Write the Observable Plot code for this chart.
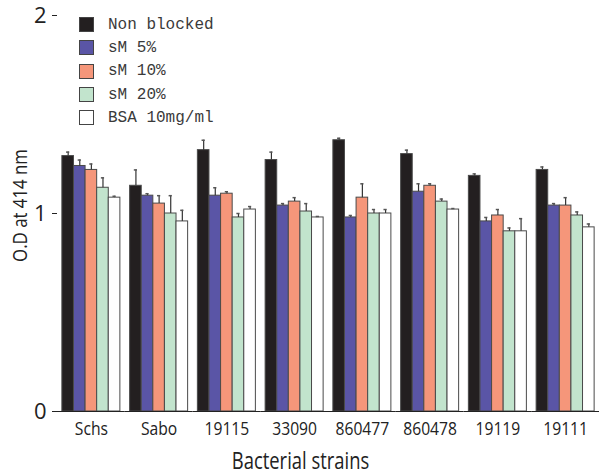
<!DOCTYPE html>
<html>
<head>
<meta charset="utf-8">
<script src="https://cdn.jsdelivr.net/npm/d3@7"></script>
<script src="https://cdn.jsdelivr.net/npm/@observablehq/plot@0.6"></script>
<style>
  html, body { margin: 0; padding: 0; background: #fff; }
  #wrap { position: relative; width: 599px; height: 474px; }
  #legend { position: absolute; left: 79px; top: 13px; font-family: "Liberation Mono", "DejaVu Sans Mono", monospace; font-size: 16px; color: #3a3a3a; }
  #legend .row { display: flex; align-items: center; height: 23.3px; }
  #legend .sw { width: 13px; height: 13px; border: 1px solid #444; box-sizing: content-box; margin-right: 14px; }
</style>
</head>
<body>
<div id="wrap"><div id="legend"></div></div>
<script>
// Bacterial strains tested (groups along the x axis)
const strains = ["Schs", "Sabo", "19115", "33090", "860477", "860478", "19119", "19111"];
// Blocking conditions (bars within each group)
const series = ["Non blocked", "sM 5%", "sM 10%", "sM 20%", "BSA 10mg/ml"];
const colors = ["#231f20", "#5a55a6", "#f5967a", "#c2e4cd", "#ffffff"];

// Mean optical density at 414 nm, one array per condition
const nonBlocked = [1.29, 1.14, 1.32, 1.27, 1.37, 1.30, 1.19, 1.22];
const sm5        = [1.24, 1.09, 1.09, 1.04, 0.98, 1.11, 0.96, 1.04];
const sm10       = [1.22, 1.05, 1.10, 1.06, 1.08, 1.14, 0.99, 1.04];
const sm20       = [1.13, 1.00, 0.98, 1.01, 1.00, 1.06, 0.91, 0.99];
const bsa        = [1.08, 0.96, 1.02, 0.98, 1.00, 1.02, 0.91, 0.93];

// Standard deviations (upper error bars)
const nonBlockedErr = [0.02, 0.08, 0.05, 0.04, 0.01, 0.02, 0.01, 0.015];
const sm5Err        = [0.03, 0.01, 0.04, 0.01, 0.01, 0.04, 0.02, 0.01];
const sm10Err       = [0.03, 0.04, 0.01, 0.02, 0.07, 0.01, 0.03, 0.04];
const sm20Err       = [0.05, 0.09, 0.02, 0.04, 0.02, 0.013, 0.017, 0.018];
const bsaErr        = [0.007, 0.056, 0.015, 0.005, 0.02, 0.005, 0.064, 0.017];

const yTicks = [0, 1, 2];

const means = [nonBlocked, sm5, sm10, sm20, bsa];
const errs = [nonBlockedErr, sm5Err, sm10Err, sm20Err, bsaErr];

const rows = [];
strains.forEach((strain, i) => {
  series.forEach((s, j) => {
    rows.push({strain, series: s, od: means[j][i], err: errs[j][i]});
  });
});

const chart = Plot.plot({
  width: 599,
  height: 474,
  marginLeft: 57,
  marginRight: 0,
  marginTop: 15,
  marginBottom: 63,
  style: {fontFamily: "'Open Sans', sans-serif", color: "#222", background: "#fff"},
  fx: {domain: strains, padding: 0, round: false, label: null},
  x: {domain: series, paddingInner: 0, paddingOuter: 0.42, round: false, axis: null},
  y: {domain: [0, 2], axis: null},
  color: {domain: series, range: colors},
  marks: [
    Plot.barY(rows, {fx: "strain", x: "series", y: "od", fill: "series", stroke: "#4a4a4a", strokeWidth: 1}),
    Plot.ruleX(rows, {fx: "strain", x: "series", y1: "od", y2: d => d.od + d.err, stroke: "#333", strokeWidth: 1.2}),
    Plot.tickY(rows, {fx: "strain", x: "series", y: d => d.od + d.err, stroke: "#555", strokeWidth: 1.5, insetLeft: 4.2, insetRight: 4.2}),
    Plot.ruleY([0], {stroke: "#222", strokeWidth: 1.2}),
    Plot.axisFx({
      anchor: "bottom", tickSize: 0, tickPadding: 11, fontSize: 18,
      label: "Bacterial strains", labelAnchor: "center", labelArrow: "none", labelOffset: 57
    }),
    Plot.axisY(yTicks, {
      anchor: "left", tickSize: 5, tickPadding: 6, fontSize: 22, tickFormat: d3.format("d"),
      label: "O.D at 414 nm", labelAnchor: "center", labelArrow: "none", labelOffset: 45
    }),
    Plot.ruleX([0], {facet: "exclude", y1: 0, y2: 2, stroke: "#222", strokeWidth: 1.2})
  ]
});

// Shift the x of a "translate(x,y)" transform by dx, or set its y
function moveTranslate(t, dx, y) {
  return (t || "").replace(/translate\(\s*([-\d.]+)[ ,]+([-\d.]+)\s*\)/, (m, a, b) =>
    `translate(${+a + dx},${y == null ? +b : y})`);
}

const svg = d3.select(chart);
svg.selectAll("[aria-label='fx-axis label'] text")
  .attr("font-size", 23)
  .attr("transform", function () { return moveTranslate(d3.select(this).attr("transform"), -28); });
svg.selectAll("[aria-label='y-axis label'] text")
  .attr("font-size", 20)
  .attr("transform", function () { return moveTranslate(d3.select(this).attr("transform"), 0, 205); });

document.getElementById("wrap").prepend(chart);

// Condensed look for the strain names and axis titles
function condense(sel, factor) {
  sel.each(function () {
    const w = this.getComputedTextLength();
    if (w > 0) {
      this.setAttribute("textLength", (w * factor).toFixed(1));
      this.setAttribute("lengthAdjust", "spacingAndGlyphs");
    }
  });
}
condense(svg.selectAll("[aria-label='fx-axis tick label'] text"), 0.87);
condense(svg.selectAll("[aria-label='fx-axis label'] text"), 0.8);
condense(svg.selectAll("[aria-label='y-axis label'] text"), 0.84);

// Legend
const legend = d3.select("#legend");
series.forEach((s, j) => {
  const row = legend.append("div").attr("class", "row");
  row.append("div").attr("class", "sw").style("background", colors[j]);
  row.append("span").text(s);
});
</script>
</body>
</html>
